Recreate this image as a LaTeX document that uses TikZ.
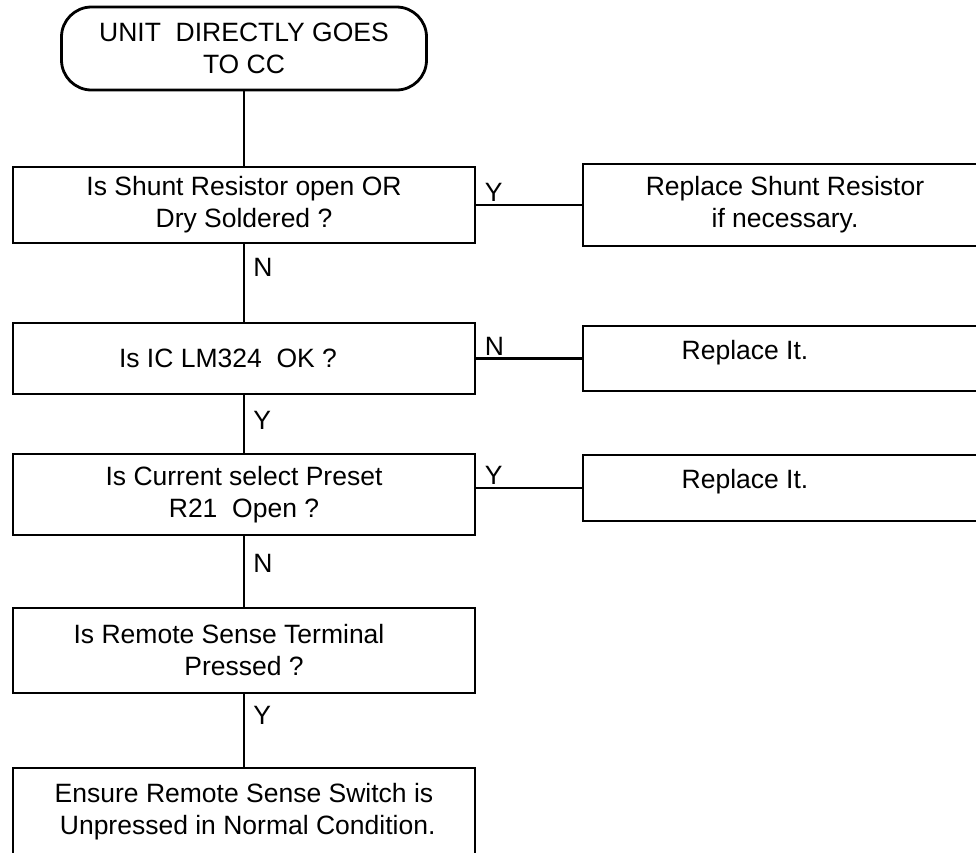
\documentclass[tikz,border=0pt]{standalone}
\usepackage{fontspec}
\setmainfont{Liberation Sans}
\usetikzlibrary{positioning}

\begin{document}
\begin{tikzpicture}[x=1pt, y=-1pt, node distance=541pt, line width=2.8pt, terminal/.style={rectangle, draw, rounded corners=30pt, align=center, minimum width=365pt, minimum height=83pt}, block/.style={rectangle, draw, align=center, minimum width=462pt, inner sep=2pt}, action/.style={rectangle, draw, align=center, minimum width=404pt, inner sep=2pt}, yn/.style={inner sep=2pt}]
\fontsize{26.5}{32}\selectfont
  \useasboundingbox (0,0) rectangle (976,852);
  \node[terminal] (start) at (244, 48.5) {UNIT\ \ DIRECTLY GOES\\TO CC};
  \node[block, minimum height=76pt] (shunt) at (244, 205) {Is Shunt Resistor open OR\\Dry Soldered ?};
  \node[block, minimum height=71pt] (ic) at (244, 358.5) {Is IC LM324\ \ OK ?\hspace*{32pt}};
  \node[block, minimum height=81pt] (preset) at (244, 494.5) {Is Current select Preset\\R21\ \ Open ?};
  \node[block, minimum height=85pt] (remote) at (244, 650.5) {Is Remote Sense Terminal\hspace*{30pt}\\Pressed ?};
  \node[block, minimum height=88pt] (ensure) at (244, 812) {Ensure Remote Sense Switch is\\\ Unpressed in Normal Condition.};

  \node[action, minimum height=82pt, right of=shunt] (replshunt) {Replace Shunt Resistor\\if necessary.};
  \node[action, minimum height=65pt, text depth=18pt, right of=ic] (replic) {Replace It.\hspace*{80pt}};
  \node[action, minimum height=66pt, text depth=18pt, right of=preset, yshift=6.5pt] (replpreset) {Replace It.\hspace*{80pt}};

  \draw (start) -- (shunt);
  \draw (shunt.east) node[yn, above right, xshift=5pt] {Y} -- (replshunt.west);
  \draw (shunt.south) node[yn, below right, xshift=6pt, yshift=-10pt] {N} -- (ic.north);
  \draw (ic.east) node[yn, above right, xshift=5pt] {N} -- (replic.west);
  \draw (ic.south) node[yn, below right, xshift=6pt, yshift=-12pt] {Y} -- (preset.north);
  \draw (preset.east |- replpreset.west) node[yn, above right, xshift=5pt] {Y} -- (replpreset.west);
  \draw (preset.south) node[yn, below right, xshift=6pt, yshift=-14pt] {N} -- (remote.north);
  \draw (remote.south) node[yn, below right, xshift=6pt, yshift=-8pt] {Y} -- (ensure.north);
\end{tikzpicture}
\end{document}
